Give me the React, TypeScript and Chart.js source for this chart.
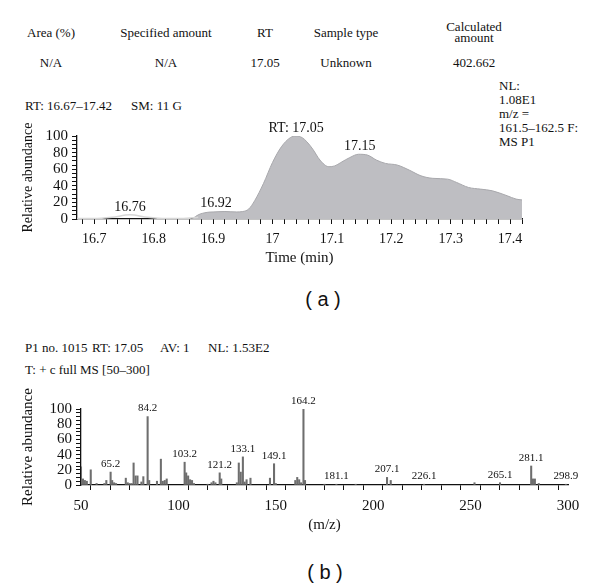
import React, { useEffect, useRef } from "react";
import { Chart, registerables } from "chart.js";

Chart.register(...registerables);

// ---------- Chromatogram (a) ----------
const traceTimes = [16.671, 16.7, 16.73, 16.76, 16.79, 16.82, 16.85, 16.875];
const traceAbund = [0.5, 0.5, 2, 5, 2, 0.5, 0.5, 2];

const chromTimes = [
  16.865, 16.875, 16.89, 16.9, 16.92, 16.94, 16.95, 16.96, 16.97, 16.985, 17.0, 17.015,
  17.03, 17.04, 17.05, 17.058, 17.068, 17.08, 17.095, 17.105, 17.115, 17.13, 17.145,
  17.16, 17.175, 17.19, 17.21, 17.23, 17.25, 17.27, 17.295, 17.31, 17.33, 17.35, 17.37,
  17.395, 17.41, 17.42,
];
const chromAbund = [
  0, 5, 8, 8.5, 9, 8.5, 9, 12, 22, 43, 68, 87,
  98, 100, 98, 93, 84, 71, 63, 64, 68, 74, 78,
  77, 71, 67, 65, 59, 52, 49, 48, 44, 38, 36, 34,
  28, 24, 23,
];

const chromPeakText = ["16.76", "16.92", "RT: 17.05", "17.15"];
const chromPeakTime = [16.76, 16.905, 17.04, 17.147];
const chromPeakAbund = [5, 9, 100, 78];

// ---------- Mass spectrum (b) ----------
const msMz = [
  50, 51, 52, 53, 55, 58, 62, 63, 65.2, 66, 67, 68, 73, 74, 75, 76, 77, 78, 79, 81, 82,
  84.2, 85, 89, 91, 92, 93, 94, 103.2, 104, 105, 106, 107, 108, 115, 117, 118, 119,
  121.2, 122, 130, 131, 132, 133.1, 134, 135, 137, 147, 149.1, 150, 160, 161, 162, 163,
  164.2, 165, 175, 181.1, 191, 207.1, 209, 226.1, 252, 265.1, 281.1, 282, 283, 285, 298.9,
];
const msAbund = [
  24, 8, 6, 5, 20, 2, 2, 6, 17, 6, 3, 2, 9, 3, 2, 2, 29, 12, 12, 4, 11,
  90, 6, 5, 34, 5, 6, 8, 30, 16, 12, 7, 6, 2, 1, 3, 5, 3,
  16, 8, 3, 29, 17, 37, 4, 7, 9, 9, 28, 2, 6, 10, 7, 3,
  100, 6, 1, 1, 1, 10, 6, 1, 3, 3, 25, 8, 8, 2, 1,
];
const msLabelText = ["65.2", "84.2", "103.2", "121.2", "133.1", "149.1", "164.2", "181.1", "207.1", "226.1", "265.1", "281.1", "298.9"];
const msLabelMz = [65.2, 84.2, 103.2, 121.2, 133.1, 149.1, 164.2, 181.1, 207.1, 226.1, 265.1, 281.1, 298.9];

// ---------- Header texts ----------
const headerCols = ["Area (%)", "Specified amount", "RT", "Sample type", "Calculated\namount"];
const headerVals = ["N/A", "N/A", "17.05", "Unknown", "402.662"];
const nlLines = ["NL:", "1.08E1", "m/z =", "161.5–162.5 F:", "MS P1"];

const SERIF = "'Liberation Serif', 'DejaVu Serif', serif";
const SANS = "'Liberation Sans', Arial, sans-serif";

function makeLabelPlugin(id: string, texts: string[], xs: number[], ys: number[], size: number, gap: number) {
  return {
    id,
    afterDatasetsDraw(chart: any) {
      const { ctx, scales } = chart;
      ctx.save();
      ctx.fillStyle = "#111";
      ctx.font = `${size}px ${SERIF}`;
      ctx.textAlign = "center";
      ctx.textBaseline = "middle";
      texts.forEach((t, i) => {
        const px = scales.x.getPixelForValue(xs[i]);
        const py = scales.y.getPixelForValue(ys[i]);
        ctx.fillText(t, px, py - gap);
      });
      ctx.restore();
    },
  };
}

function axisCommon() {
  return {
    grid: {
      display: true,
      drawOnChartArea: false,
      drawTicks: true,
      tickLength: 5,
      tickColor: "#111",
      tickWidth: 1,
    },
    border: { display: true, color: "#111", width: 1.3 },
  };
}

function ChromChart() {
  const ref = useRef<HTMLCanvasElement>(null);
  useEffect(() => {
    const canvas = ref.current!;
    const chart = new Chart(canvas, {
      type: "line",
      data: {
        datasets: [
          {
            data: traceTimes.map((t, i) => ({ x: t, y: traceAbund[i] })),
            borderColor: "#d6d6d6",
            borderWidth: 1.5,
            pointRadius: 0,
            fill: false,
            cubicInterpolationMode: "monotone",
          },
          {
            data: chromTimes.map((t, i) => ({ x: t, y: chromAbund[i] })),
            borderColor: "#a8a8ac",
            borderWidth: 1,
            backgroundColor: "#bebec2",
            fill: "origin",
            pointRadius: 0,
            cubicInterpolationMode: "monotone",
          },
        ],
      },
      options: {
        animation: false,
        responsive: false,
        events: [],
        layout: { padding: { left: 16, right: 78, top: 26, bottom: 4 } },
        plugins: { legend: { display: false }, tooltip: { enabled: false } },
        scales: {
          x: {
            type: "linear",
            min: 16.671,
            max: 17.42,
            ...axisCommon(),
            ticks: {
              stepSize: 0.02,
              includeBounds: false,
              autoSkip: false,
              maxRotation: 0,
              padding: 7,
              color: "#111",
              font: { family: SERIF, size: 14 },
              callback: (v: any) => {
                const r = Math.round(v * 10);
                return Math.abs(v * 10 - r) < 1e-6 ? String(r / 10) : "";
              },
            },
            title: { display: true, text: "Time (min)", color: "#111", font: { family: SERIF, size: 15 }, padding: { top: 4, bottom: 4 } },
            afterFit: (s: any) => { s.height = 52; },
          },
          y: {
            min: 0,
            max: 100,
            ...axisCommon(),
            ticks: {
              stepSize: 5,
              autoSkip: false,
              padding: 4,
              color: "#111",
              font: { family: SERIF, size: 15 },
              callback: (v: any) => (v % 20 === 0 ? String(v) : ""),
            },
            title: { display: true, text: "Relative abundance", color: "#111", font: { family: SERIF, size: 14 }, padding: { top: 4, bottom: 4 } },
            afterFit: (s: any) => { s.width = 61; },
          },
        },
      },
      plugins: [makeLabelPlugin("chromLabels", chromPeakText, chromPeakTime, chromPeakAbund, 14, 8)],
    } as any);
    return () => chart.destroy();
  }, []);
  return <canvas ref={ref} width={600} height={165} style={{ position: "absolute", left: 0, top: 110, width: 600, height: 165 }} />;
}

function MsChart() {
  const ref = useRef<HTMLCanvasElement>(null);
  useEffect(() => {
    const canvas = ref.current!;
    const labelAb = msLabelMz.map((m) => msAbund[msMz.indexOf(m)]);
    const chart = new Chart(canvas, {
      type: "bar",
      data: {
        datasets: [
          {
            data: msMz.map((m, i) => ({ x: m, y: msAbund[i] })),
            backgroundColor: "#6e6e6e",
            barThickness: 1.4,
            borderWidth: 0,
          },
        ],
      },
      options: {
        animation: false,
        responsive: false,
        events: [],
        layout: { padding: { left: 15, right: 32, top: 29, bottom: 2 } },
        plugins: { legend: { display: false }, tooltip: { enabled: false } },
        scales: {
          x: {
            type: "linear",
            min: 50,
            max: 300,
            offset: false,
            ...axisCommon(),
            ticks: {
              stepSize: 10,
              autoSkip: false,
              maxRotation: 0,
              padding: 7,
              color: "#111",
              font: { family: SERIF, size: 15 },
              callback: (v: any) => (v % 50 === 0 ? String(v) : ""),
            },
            title: { display: true, text: "(m/z)", color: "#111", font: { family: SERIF, size: 15 }, padding: { top: 4, bottom: 4 } },
            afterFit: (s: any) => { s.height = 53; },
          },
          y: {
            min: 0,
            max: 100,
            ...axisCommon(),
            ticks: {
              stepSize: 5,
              autoSkip: false,
              padding: 4,
              color: "#111",
              font: { family: SERIF, size: 15 },
              callback: (v: any) => (v % 20 === 0 ? String(v) : ""),
            },
            title: { display: true, text: "Relative abundance", color: "#111", font: { family: SERIF, size: 15 }, padding: { top: 4, bottom: 4 } },
            afterFit: (s: any) => { s.width = 66; },
          },
        },
      },
      plugins: [makeLabelPlugin("msLabels", msLabelText, msLabelMz, labelAb, 11, 8)],
    } as any);
    return () => chart.destroy();
  }, []);
  return <canvas ref={ref} width={600} height={160} style={{ position: "absolute", left: 0, top: 380, width: 600, height: 160 }} />;
}

const txt = (s: string, x: number, y: number, size: number, extra: any = {}) => (
  <div
    key={s + x + y}
    style={{
      position: "absolute",
      left: x,
      top: y,
      transform: "translate(-50%, -50%)",
      fontFamily: SERIF,
      fontSize: size,
      lineHeight: 1,
      whiteSpace: "pre",
      textAlign: "center",
      color: "#111",
      ...extra,
    }}
  >
    {s}
  </div>
);

const leftTxt = (s: string, x: number, y: number, size: number, extra: any = {}) => (
  <div
    key={s + x + y}
    style={{
      position: "absolute",
      left: x,
      top: y,
      transform: "translateY(-50%)",
      fontFamily: SERIF,
      fontSize: size,
      lineHeight: 1,
      whiteSpace: "pre",
      color: "#111",
      ...extra,
    }}
  >
    {s}
  </div>
);

export default function App() {
  const colX = [51, 166, 265, 346, 474];
  return (
    <div style={{ position: "absolute", left: 0, top: 0, width: 600, height: 587, background: "#fff", overflow: "hidden" }}>
      {headerCols.map((h, i) =>
        i === 4 ? txt(h, colX[i], 32, 13, { lineHeight: "11px" }) : txt(h, colX[i], 32, 13)
      )}
      {headerVals.map((v, i) => txt(v, colX[i], 62, 13))}
      {nlLines.map((l, i) => leftTxt(l, 499, 85 + i * 14, 13))}
      {leftTxt("RT: 16.67–17.42", 25, 105, 13)}
      {leftTxt("SM: 11 G", 131, 105, 13)}
      <ChromChart />
      {txt("( a )", 323, 299, 20, { fontFamily: SANS })}
      {leftTxt("P1 no. 1015", 25, 347, 13)}
      {leftTxt("RT: 17.05", 92, 347, 13)}
      {leftTxt("AV: 1", 160, 347, 13)}
      {leftTxt("NL: 1.53E2", 208, 347, 13)}
      {leftTxt("T: + c full MS [50–300]", 25, 369, 13)}
      <MsChart />
      {txt("( b )", 325, 572, 20, { fontFamily: SANS })}
    </div>
  );
}
